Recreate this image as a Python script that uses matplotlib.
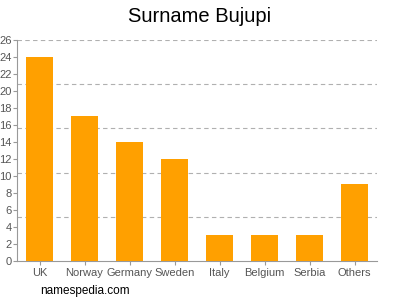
import numpy as np
import matplotlib
matplotlib.use("Agg")
import matplotlib.pyplot as plt

countries = ["UK", "Norway", "Germany", "Sweden", "Italy", "Belgium", "Serbia", "Others"]
counts = [24, 17, 14, 12, 3, 3, 3, 9]
y_ticks = list(range(0, 27, 2))
grid_levels = [5.2, 10.4, 15.6, 20.8, 26]

plt.rcParams["font.family"] = ["Liberation Sans", "DejaVu Sans"]

fig = plt.figure(figsize=(4, 3), dpi=100)
ax = fig.add_axes([0.0425, 0.13, 0.9, 0.737])

x = np.arange(len(countries))
ax.bar(x, counts, width=0.62, color="#ffa000", zorder=3)

for g in grid_levels:
    ax.axhline(g, color="#b0b0b0", lw=0.8, ls=(0, (4, 3)), zorder=1)

ax.set_xlim(-0.5, len(countries) - 0.5)
ax.set_ylim(0, 26)
ax.set_yticks(y_ticks)
ax.set_xticks(x)
ax.set_xticklabels(countries)
ax.tick_params(axis="both", labelsize=8, colors="#999999", labelcolor="#555555", length=3, width=0.8)
ax.tick_params(axis="y", pad=1)
ax.tick_params(axis="x", pad=2)

for side in ["top", "right"]:
    ax.spines[side].set_visible(False)
for side in ["left", "bottom"]:
    ax.spines[side].set_color("#999999")
    ax.spines[side].set_linewidth(0.8)

fig.text(0.5, 0.945, "Surname Bujupi", ha="center", va="center", fontsize=14.5, color="#000000")
fig.text(0.1, 0.03, "namespedia.com", ha="left", va="center", fontsize=8.5, color="#000000")

fig.savefig("out.png", dpi=100)
